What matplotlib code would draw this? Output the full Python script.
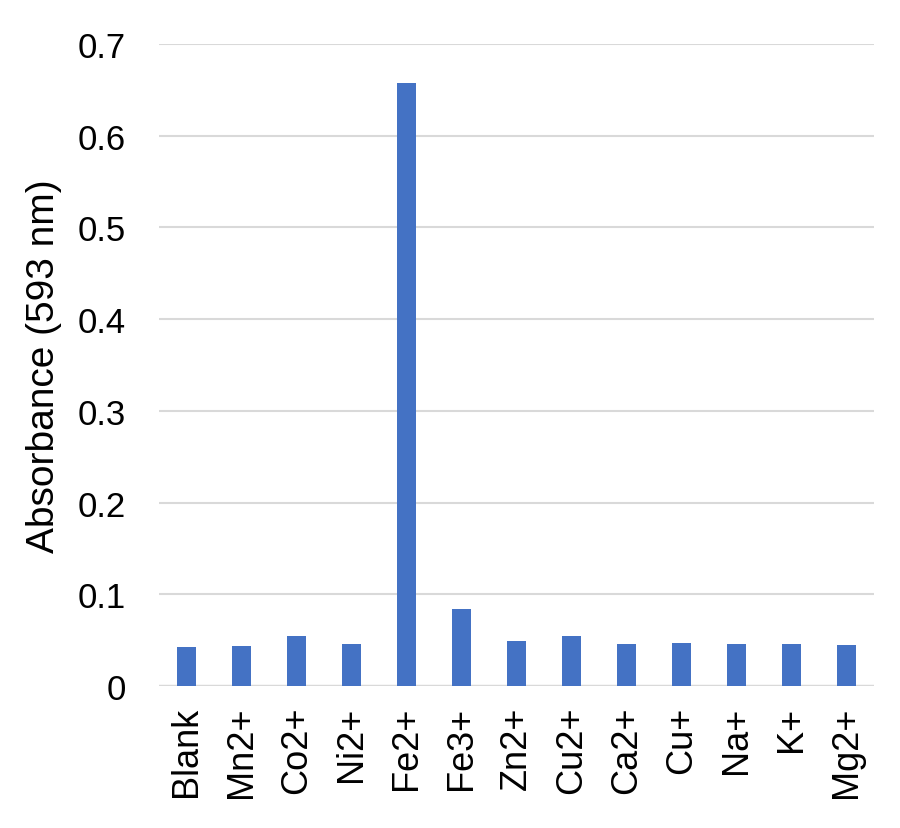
import matplotlib.pyplot as plt
import numpy as np

plt.rcParams['font.family'] = ['Liberation Sans', 'DejaVu Sans']

ions = ['Blank', 'Mn2+', 'Co2+', 'Ni2+', 'Fe2+', 'Fe3+', 'Zn2+',
        'Cu2+', 'Ca2+', 'Cu+', 'Na+', 'K+', 'Mg2+']
absorbance = [0.043, 0.044, 0.054, 0.046, 0.658, 0.084, 0.049,
              0.054, 0.046, 0.047, 0.046, 0.046, 0.045]
yticks = [0, 0.1, 0.2, 0.3, 0.4, 0.5, 0.6, 0.7]
ytick_labels = ['0', '0.1', '0.2', '0.3', '0.4', '0.5', '0.6', '0.7']

fig = plt.figure(figsize=(9, 8.29), dpi=100)
ax = fig.add_axes([0.177, 0.1713, 0.794, 0.7744])

x = np.arange(len(ions))
ax.bar(x, absorbance, width=0.34, color='#4472C4', zorder=3)

ax.set_xlim(-0.5, len(ions) - 0.5)
ax.set_ylim(0, 0.7)
ax.set_yticks(yticks)
ax.set_yticklabels(ytick_labels)
ax.set_xticks(x)
ax.set_xticklabels(ions, rotation=90)

for y in yticks[1:]:
    ax.axhline(y, color='#D9D9D9', lw=1.5, zorder=1)
ax.axhline(0, color='#D9D9D9', lw=2.5, zorder=2)

for s in ax.spines.values():
    s.set_visible(False)
ax.tick_params(axis='y', length=0, labelsize=25, colors='black', pad=24)
ax.tick_params(axis='x', length=0, labelsize=26, colors='black', pad=14)

ax.set_ylabel('Absorbance (593 nm)', fontsize=28, labelpad=11)

plt.savefig('out.png', dpi=100)
